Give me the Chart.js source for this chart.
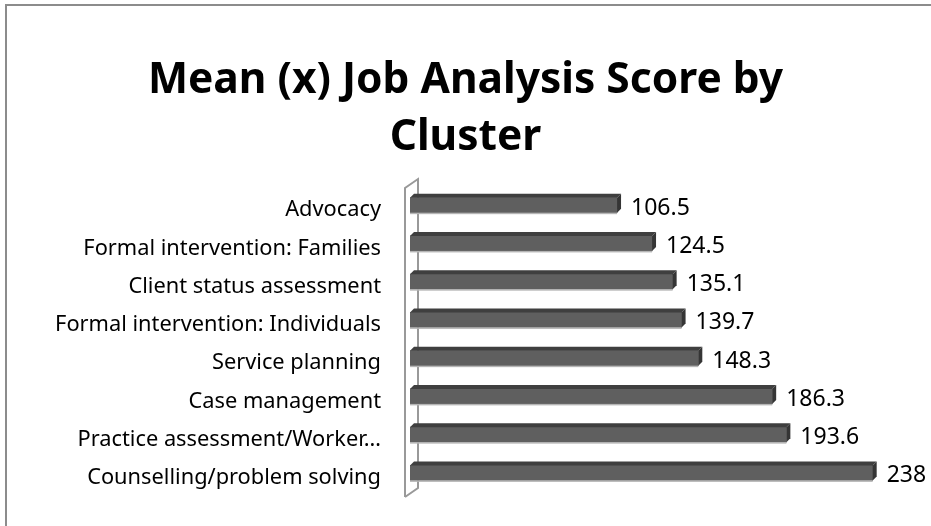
<!DOCTYPE html>
<html lang="en">
<head>
<meta charset="UTF-8">
<title>Mean (x) Job Analysis Score by Cluster</title>
<script src="https://cdn.jsdelivr.net/npm/chart.js@4.4.1/dist/chart.umd.min.js"></script>
<style>
    html, body { margin: 0; padding: 0; background: #fff; }
    #wrap { position: relative; width: 931px; height: 526px; overflow: hidden; }
    #frame { position: absolute; left: 5px; top: 4px; width: 1000px; height: 600px; border: 2px solid #8c8c8c; box-sizing: border-box; }
    canvas { position: absolute; left: 0; top: 0; }
</style>
</head>
<body>
<div id="wrap">
    <div id="frame"></div>
    <canvas id="chart" width="931" height="526"></canvas>
</div>
<script>
// data
const clusters = [
    'Advocacy',
    'Formal intervention: Families',
    'Client status assessment',
    'Formal intervention: Individuals',
    'Service planning',
    'Case management',
    'Practice assessment/Worker\u2026',
    'Counselling/problem solving'
];
const meanScores = [106.5, 124.5, 135.1, 139.7, 148.3, 186.3, 193.6, 238];
const titleLines = ['Mean (x) Job Analysis Score by', 'Cluster'];

const labelFont = '"Noto Sans", sans-serif';

// fake 3d look: top face + right side on each bar, and the left wall
const bar3d = {
    id: 'bar3d',
    beforeDatasetsDraw(chart) {
        const ctx = chart.ctx;
        const a = chart.chartArea;
        const d = 13;
        ctx.save();
        ctx.strokeStyle = '#999';
        ctx.lineWidth = 2;
        ctx.beginPath();
        ctx.moveTo(a.left - 5, a.bottom + 5);
        ctx.lineTo(a.left - 5, a.top + 2);
        ctx.lineTo(a.left - 5 + d, a.top - 7);
        ctx.lineTo(a.left - 5 + d, a.bottom - 4);
        ctx.lineTo(a.left - 5, a.bottom + 5);
        ctx.stroke();
        ctx.restore();
    },
    afterDatasetsDraw(chart) {
        const ctx = chart.ctx;
        const meta = chart.getDatasetMeta(0);
        ctx.save();
        meta.data.forEach((bar, i) => {
            const top = bar.y - bar.height / 2;
            const bot = bar.y + bar.height / 2;
            const x0 = bar.base, x1 = bar.x;
            const dp = 4;
            ctx.fillStyle = '#3f3f3f';
            ctx.beginPath();
            ctx.moveTo(x0, top);
            ctx.lineTo(x0 + dp, top - dp);
            ctx.lineTo(x1 + dp, top - dp);
            ctx.lineTo(x1, top);
            ctx.closePath();
            ctx.fill();
            ctx.fillStyle = '#353535';
            ctx.beginPath();
            ctx.moveTo(x1, top);
            ctx.lineTo(x1 + dp, top - dp);
            ctx.lineTo(x1 + dp, bot - dp);
            ctx.lineTo(x1, bot);
            ctx.closePath();
            ctx.fill();
            ctx.fillStyle = '#b5b5b5';
            ctx.fillRect(x0, bot, x1 - x0, 1.5);
            // value label
            ctx.fillStyle = '#000';
            ctx.font = '23px ' + labelFont;
            ctx.textAlign = 'left';
            ctx.textBaseline = 'middle';
            ctx.fillText(String(meanScores[i]), x1 + 14, bar.y + 3);
        });
        ctx.restore();
    }
};

new Chart(document.getElementById('chart'), {
    type: 'bar',
    data: {
        labels: clusters,
        datasets: [{
            data: meanScores,
            backgroundColor: '#5f5f5f',
            borderWidth: 0,
            barThickness: 15
        }]
    },
    plugins: [bar3d],
    options: {
        indexAxis: 'y',
        responsive: false,
        animation: false,
        layout: { padding: { top: 53, left: 0, right: 0, bottom: 34 } },
        plugins: {
            legend: { display: false },
            tooltip: { enabled: false },
            title: {
                display: true,
                text: titleLines,
                color: '#000',
                font: { family: labelFont, size: 42.5, weight: 'bold', lineHeight: 1.33 },
                padding: { top: 0, bottom: 20 }
            }
        },
        scales: {
            x: { display: false, min: 0, max: 268 },
            y: {
                afterFit(scale) {
                    scale.width = 410;
                    scale.paddingTop = 0;
                    scale.paddingBottom = 0;
                },
                grid: { display: false, drawTicks: false },
                border: { display: false },
                ticks: {
                    color: '#000',
                    padding: 29,
                    labelOffset: 5,
                    font: { family: labelFont, size: 21.8 }
                }
            }
        }
    }
});
</script>
</body>
</html>
